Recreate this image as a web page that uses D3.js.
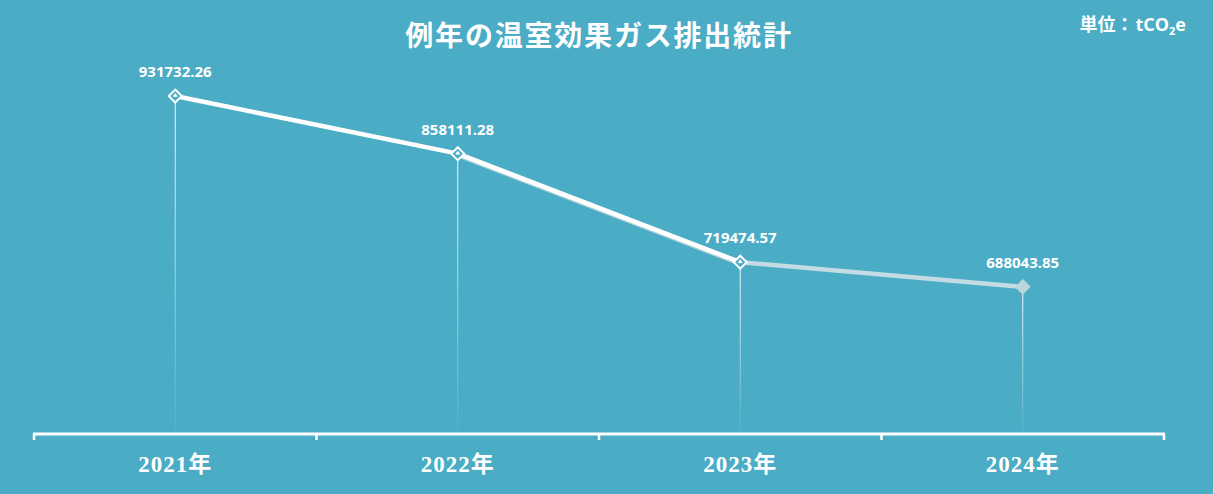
<!DOCTYPE html>
<html>
<head>
<meta charset="utf-8">
<script src="https://d3js.org/d3.v7.min.js"></script>
<style>
  body { margin: 0; background: #4BACC6; }
  svg { display: block; }
</style>
</head>
<body>
<svg id="chart" width="1213" height="494"></svg>
<script>
// data
var years = ["2021年", "2022年", "2023年", "2024年"];
var emissions = [931732.26, 858111.28, 719474.57, 688043.85];
var labels = ["931732.26", "858111.28", "719474.57", "688043.85"];

var W = 1213, H = 494;
var svg = d3.select("#chart");

svg.append("rect").attr("width", W).attr("height", H).attr("fill", "#4BACC6");

var x = d3.scaleBand().domain(years).range([34, 1164]);
var y = d3.scaleLinear().domain([500000, 1000000]).range([434, 42.6]);
var cx = function (i) { return x(years[i]) + x.bandwidth() / 2; };

var defs = svg.append("defs");
var grad = defs.append("linearGradient").attr("id", "drop").attr("x1", 0).attr("y1", 0).attr("x2", 0).attr("y2", 1);
grad.append("stop").attr("offset", "0%").attr("stop-color", "#fff").attr("stop-opacity", 0.95);
grad.append("stop").attr("offset", "100%").attr("stop-color", "#fff").attr("stop-opacity", 0.05);

// title + unit
svg.append("text")
    .attr("x", 599).attr("y", 46)
    .attr("text-anchor", "middle")
    .attr("fill", "#fff")
    .attr("font-family", "'Noto Sans CJK JP', sans-serif")
    .attr("font-weight", "bold")
    .attr("font-size", 28)
    .attr("letter-spacing", 1.8)
    .text("例年の温室効果ガス排出統計");

var unit = svg.append("text")
    .attr("x", 1186).attr("y", 31)
    .attr("text-anchor", "end")
    .attr("fill", "#fff")
    .attr("font-family", "'Open Sans', 'Noto Sans CJK JP', sans-serif")
    .attr("font-weight", "bold")
    .attr("font-size", 18);
unit.append("tspan").text("単位：");
unit.append("tspan").attr("dx", 2).text("tCO");
unit.append("tspan").attr("font-size", 11).attr("dy", 4).text("2");
unit.append("tspan").attr("dy", -4).text("e");

// drop lines
svg.selectAll(".drop").data(emissions).enter().append("rect")
    .attr("x", function (d, i) { return cx(i) - 0.5; })
    .attr("y", function (d) { return y(d); })
    .attr("width", 1)
    .attr("height", function (d) { return 434 - y(d); })
    .attr("fill", "url(#drop)");

// axis
var axis = svg.append("g").attr("transform", "translate(0,434)");
axis.append("line").attr("x1", 33).attr("x2", 1165).attr("stroke", "#fff").attr("stroke-width", 3);
var ticks = years.map(function (d) { return x(d); }).concat([x.range()[1]]);
axis.selectAll(".tk").data(ticks).enter().append("line")
    .attr("x1", function (d) { return d; }).attr("x2", function (d) { return d; })
    .attr("y1", 0).attr("y2", 6)
    .attr("stroke", "#fff").attr("stroke-width", 2.5);
axis.selectAll(".cat").data(years).enter().append("text")
    .attr("x", function (d) { return x(d) + x.bandwidth() / 2; })
    .attr("y", 38)
    .attr("text-anchor", "middle")
    .attr("fill", "#fff")
    .attr("font-family", "'Liberation Serif', 'Noto Sans CJK JP', serif")
    .attr("font-weight", "bold")
    .attr("font-size", 23)
    .attr("letter-spacing", 1)
    .text(function (d) { return d; });

// lines
var line = d3.line().x(function (d) { return cx(d.i); }).y(function (d) { return y(d.v); });
var pts = emissions.map(function (v, i) { return { i: i, v: v }; });

svg.append("path").datum(pts.slice(2, 4)).attr("d", line)
    .attr("fill", "none").attr("stroke", "#c3dbe2").attr("stroke-width", 4.5);
svg.append("path").datum(pts.slice(1, 3)).attr("d", line)
    .attr("transform", "translate(0,2)")
    .attr("fill", "none").attr("stroke", "#b9d3db").attr("stroke-width", 3.5);
svg.append("path").datum(pts.slice(0, 3)).attr("d", line)
    .attr("fill", "none").attr("stroke", "#fff").attr("stroke-width", 4.5).attr("stroke-linejoin", "round");

// markers
var mk = svg.selectAll(".mk").data(pts).enter().append("g")
    .attr("transform", function (d) { return "translate(" + cx(d.i) + "," + y(d.v) + ")"; });
mk.append("path")
    .attr("d", "M0,-6.5L6.5,0L0,6.5L-6.5,0Z")
    .attr("fill", function (d) { return d.i < 3 ? "#4BACC6" : "#bcd6de"; })
    .attr("stroke", function (d) { return d.i < 3 ? "#fff" : "#bcd6de"; })
    .attr("stroke-width", 2);
mk.filter(function (d) { return d.i < 3; }).append("path")
    .attr("d", "M0,-3L2.5,0.5L0,1L-2.5,0.5Z")
    .attr("fill", "#fff");

// value labels
svg.selectAll(".lbl").data(pts).enter().append("text")
    .attr("x", function (d) { return cx(d.i); })
    .attr("y", function (d) { return y(d.v) - 19; })
    .attr("text-anchor", "middle")
    .attr("fill", "#fff")
    .attr("font-family", "'Open Sans', sans-serif")
    .attr("font-weight", "bold")
    .attr("font-size", 15)
    .text(function (d) { return labels[d.i]; });
</script>
</body>
</html>
